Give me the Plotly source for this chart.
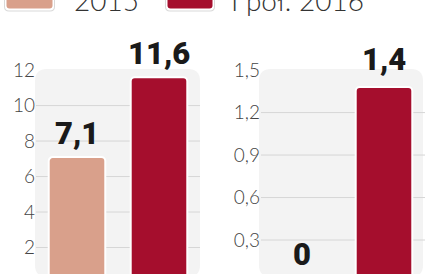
import plotly.graph_objects as go

W, H = 439, 274
MT = 70  # top margin (px)

# ---- data ----
categories = ["2015", "I pół. 2016"]
left_values = [7.1, 11.6]
left_labels = ["7,1", "11,6"]
right_values = [0, 1.38]
right_labels = ["0", "1,4"]
left_ticks = [0, 2, 4, 6, 8, 10, 12]
left_ticktext = ["0", "2", "4", "6", "8", "10", "12"]
right_ticks = [0, 0.3, 0.6, 0.9, 1.2, 1.5]
right_ticktext = ["0,0", "0,3", "0,6", "0,9", "1,2", "1,5"]
colors = ["#d9a08b", "#a50e2d"]

# ---- geometry helpers (pixel -> paper) ----
def px(x):
    return x / W

def py(y):
    return (H - y) / (H - MT)

def rr(x0, y0, x1, y1, r):
    p = [
        f"M {px(x0 + r)} {py(y0)}",
        f"L {px(x1 - r)} {py(y0)}",
        f"Q {px(x1)} {py(y0)} {px(x1)} {py(y0 + r)}",
        f"L {px(x1)} {py(y1 - r)}",
        f"Q {px(x1)} {py(y1)} {px(x1 - r)} {py(y1)}",
        f"L {px(x0 + r)} {py(y1)}",
        f"Q {px(x0)} {py(y1)} {px(x0)} {py(y1 - r)}",
        f"L {px(x0)} {py(y0 + r)}",
        f"Q {px(x0)} {py(y0)} {px(x0 + r)} {py(y0)}",
        "Z",
    ]
    return " ".join(p)

# axis pixel layout
L_X0, L_X1 = 36, 200
R_X0, R_X1 = 261, 425
L_ZERO, L_PPU = 283.0, 17.75
R_ZERO, R_PPU = 282.5, 141.6
l_range = [(L_ZERO - H) / L_PPU, (L_ZERO - MT) / L_PPU]
r_range = [(R_ZERO - H) / R_PPU, (R_ZERO - MT) / R_PPU]

tick_font = dict(family="Lato", size=19, color="#444444", weight=300)
label_font = dict(family="Roboto", size=31, color="#1a1a1a", weight=900)

fig = go.Figure()
for vals, xa, ya in [(left_values, "x", "y"), (right_values, "x2", "y2")]:
    fig.add_trace(go.Bar(
        x=categories, y=vals, xaxis=xa, yaxis=ya,
        marker=dict(color=colors, line=dict(color="white", width=2), cornerradius=4),
        width=0.69, hoverinfo="skip",
    ))

shapes = []
# panel backgrounds
for x0, x1 in [(35, 200), (259, 423)]:
    shapes.append(dict(type="path", path=rr(x0, 69, x1, 277, 12), xref="paper", yref="paper",
                       fillcolor="#f3f3f3", line=dict(width=0), layer="below"))
# gridlines
for v in left_ticks:
    if l_range[0] < v < left_ticks[-1]:
        shapes.append(dict(type="line", xref="paper", yref="y", x0=px(L_X0), x1=px(L_X1),
                           y0=v, y1=v, line=dict(color="#d6d6d6", width=1), layer="below"))
for v in right_ticks:
    if r_range[0] < v < right_ticks[-1]:
        shapes.append(dict(type="line", xref="paper", yref="y2", x0=px(R_X0), x1=px(R_X1),
                           y0=v, y1=v, line=dict(color="#d6d6d6", width=1), layer="below"))
# legend swatches
for (x0, x1), c in zip([(5, 54), (166, 214)], colors):
    shapes.append(dict(type="path", path=rr(x0 - 1, -14, x1 + 1, 11.5, 5), xref="paper", yref="paper",
                       fillcolor="#d9d9d9", line=dict(width=0)))
    shapes.append(dict(type="path", path=rr(x0, -14, x1, 10.5, 4), xref="paper", yref="paper",
                       fillcolor="#ffffff", line=dict(width=0)))
    shapes.append(dict(type="path", path=rr(x0 + 1.5, -14, x1 - 1.5, 8.5, 3), xref="paper", yref="paper",
                       fillcolor=c, line=dict(width=0)))

annotations = []
# legend text
for x, t in zip([72, 229], categories):
    annotations.append(dict(text=t, xref="paper", yref="paper", x=px(x), y=py(0),
                            xanchor="left", yanchor="middle", showarrow=False,
                            font=dict(family="Lato", size=28, color="#333333", weight=300)))
# value labels (x given as category index)
for i, (v, t) in enumerate(zip(left_values, left_labels)):
    annotations.append(dict(text=t, x=i, y=v, xref="x", yref="y", showarrow=False,
                            yanchor="middle", yshift=24, font=label_font))
for i, (v, t) in enumerate(zip(right_values, right_labels)):
    yp = py(R_ZERO - v * R_PPU)
    annotations.append(dict(text=t, x=i, y=yp, xref="x2", yref="paper", showarrow=False,
                            yanchor="middle", yshift=28, font=label_font))
# tick labels that fall below the visible (cropped) range
for v, t in zip(left_ticks, left_ticktext):
    if v < l_range[0]:
        annotations.append(dict(text=t, x=px(L_X0 - 3), y=py(L_ZERO - v * L_PPU), xref="paper", yref="paper",
                                xanchor="right", yanchor="middle", showarrow=False, font=tick_font))
for v, t in zip(right_ticks, right_ticktext):
    if v < r_range[0]:
        annotations.append(dict(text=t, x=px(R_X0 - 3), y=py(R_ZERO - v * R_PPU), xref="paper", yref="paper",
                                xanchor="right", yanchor="middle", showarrow=False, font=tick_font))

ax_common = dict(showgrid=False, zeroline=False, showline=False, ticks="")
fig.update_layout(
    width=W, height=H,
    margin=dict(l=0, r=0, t=MT, b=0, pad=0),
    paper_bgcolor="white", plot_bgcolor="rgba(0,0,0,0)",
    showlegend=False, barmode="group",
    xaxis=dict(domain=[px(L_X0), px(L_X1)], range=[-0.5, 1.5], showticklabels=False, **ax_common),
    xaxis2=dict(domain=[px(R_X0), px(R_X1)], range=[-0.5, 1.5], showticklabels=False, **ax_common),
    yaxis=dict(domain=[0, 1], range=[l_range[0], l_range[1] + 0.005], tickvals=left_ticks,
               ticktext=left_ticktext, tickfont=tick_font, anchor="x", **ax_common),
    yaxis2=dict(domain=[0, 1], range=[r_range[0], max(r_range[1], 1.5005)], tickvals=right_ticks,
                ticktext=right_ticktext, tickfont=tick_font, anchor="x2", **ax_common),
    shapes=shapes, annotations=annotations,
)
fig.write_html("out.html")
